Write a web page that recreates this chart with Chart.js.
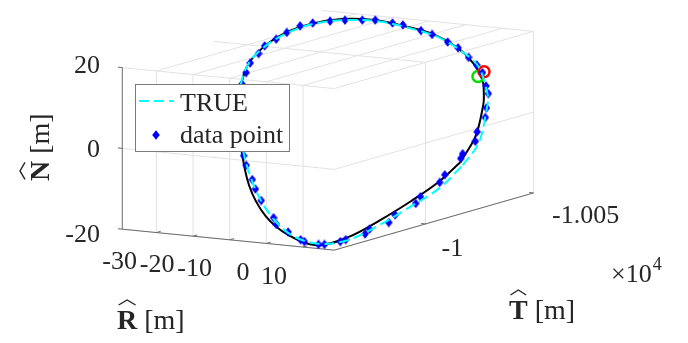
<!DOCTYPE html>
<html>
<head>
<meta charset="utf-8">
<script src="https://cdn.jsdelivr.net/npm/chart.js@4.4.1/dist/chart.umd.min.js"></script>
<style>
  html, body { margin: 0; padding: 0; background: #fff; }
  #wrap { width: 688px; height: 343px; }
</style>
</head>
<body>
<div id="wrap"><canvas id="myChart" width="688" height="343"></canvas></div>
<script>
// axis limits and ticks (R, T, N in metres)
const rLim = [-39.3, 18.5];
const tLim = [-10050, -9957.7];
const nLim = [-20, 20];
const rTicks = [-30, -20, -10, 0, 10];
const tTicks = [-10050, -10000];
const tTickLabels = ["-1.005", "-1"];
const nTicks = [-20, 0, 20];

// true relative orbit
const trueR = [18.5, 17.6, 14.9, 12.9, 10.6, 5.0, -1.5, -8.5, -15.5, -22.0, -27.6, -31.9, -34.6, -35.5, -34.6, -31.9, -29.9, -27.6, -22.0, -15.5, -8.5, -1.5, 5.0, 10.6, 14.9, 17.6];
const trueT = [-10017.2, -10026.3, -10034.7, -10038.5, -10041.9, -10047.5, -10051.0, -10052.2, -10051.0, -10047.5, -10041.9, -10034.7, -10026.3, -10017.2, -10008.1, -9999.7, -9995.9, -9992.5, -9986.9, -9983.4, -9982.2, -9983.4, -9986.9, -9992.5, -9999.7, -10008.1];
const trueN = [-8.1, -3.9, 3.5, 4.7, 5.6, 10.4, 13.0, 15.7, 17.5, 19.2, 19.9, 19.8, 18.5, 16.4, 13.6, 9.2, 4.3, -0.9, -8.7, -16.4, -21.9, -24.1, -23.2, -19.7, -15.8, -12.4];

// estimated orbit (black)
const estR = [18.5, 17.6, 14.9, 12.9, 10.6, 5.0, -1.5, -8.5, -15.5, -22.0, -27.6, -31.9, -34.6, -35.5, -34.6, -31.9, -29.9, -27.6, -22.0, -15.5, -8.5, -1.5, 5.0, 10.6, 14.9, 17.6];
const estT = [-10016.1, -10024.8, -10032.9, -10036.5, -10039.8, -10045.1, -10048.5, -10049.6, -10048.5, -10045.1, -10039.8, -10032.9, -10024.8, -10016.1, -10007.4, -9999.3, -9995.7, -9992.4, -9987.1, -9983.7, -9982.6, -9983.7, -9987.1, -9992.4, -9999.3, -10007.4];
const estN = [-7.2, -2.0, 4.3, 6.2, 8.8, 11.6, 14.5, 16.9, 18.4, 19.9, 20.5, 20.0, 18.6, 16.2, 13.0, 7.4, 2.7, -2.5, -12.2, -18.6, -22.6, -24.6, -22.5, -18.6, -14.6, -10.9];

// measured data points
const measR = [9.56, 7.0, 4.16, 0.73, -2.88, -6.15, -10.39, -13.2, -17.3, -19.49, -22.81, -25.13, -27.91, -30.07, -32.23, -33.53, -34.64, -35.23, -35.5, -35.39, -34.8, -34.18, -32.96, -31.15, -27.27, -24.75, -23.22, -20.33, -19.06, -16.84, -12.71, -11.79, -8.5, -5.21, -4.29, -1.05, 0.3, 3.54, 4.6, 8.13, 8.86, 11.89, 12.78, 15.34, 15.88, 17.58, 17.91, 18.5, 18.5, 18.01, 17.8, 15.96, 15.34, 12.78];
const measT = [-10043.2, -10045.9, -10048.1, -10050.1, -10051.4, -10052.1, -10052.1, -10051.7, -10050.3, -10049.2, -10046.9, -10044.8, -10041.5, -10038.3, -10033.9, -10030.3, -10026.0, -10022.1, -10017.2, -10014.2, -10009.3, -10006.4, -10002.4, -9998.1, -9992.0, -9989.2, -9987.8, -9985.7, -9985.0, -9983.9, -9982.6, -9982.4, -9982.2, -9982.4, -9982.6, -9983.6, -9984.1, -9985.9, -9986.6, -9989.6, -9990.4, -9994.2, -9995.6, -10000.8, -10002.1, -10008.1, -10009.9, -10016.3, -10017.2, -10023.9, -10025.1, -10032.0, -10033.6, -10038.8];
const measN = [6.72, 9.39, 10.68, 11.96, 13.79, 14.82, 16.32, 17.08, 18.34, 18.79, 19.55, 19.66, 19.91, 19.98, 19.99, 19.71, 18.63, 17.52, 16.59, 15.17, 13.61, 11.75, 9.63, 6.2, -1.97, -5.33, -7.35, -10.31, -12.44, -14.91, -18.6, -20.15, -21.7, -23.33, -23.75, -24.31, -24.27, -23.55, -23.09, -21.82, -20.69, -19.35, -17.6, -15.32, -13.82, -11.04, -9.4, -6.3, -5.26, -3.26, -1.1, 1.22, 3.28, 5.8];

// start positions [R, T, N]
const trueStart = [7.9, -10045.1, 9.8];
const estStart = [6.0, -10045.5, 8.4];

// 3D box on the canvas: corner (Rmin, Tmax, Nmin) and the three edge vectors
const box = { ox: 117, oy: 232, rx: 217, ry: 22, tx: 204, ty: -60, nz: -169.5 };

function proj(r, t, n) {
  const fr = (r - rLim[0]) / (rLim[1] - rLim[0]);
  const ft = (tLim[1] - t) / (tLim[1] - tLim[0]);
  const fn = (n - nLim[0]) / (nLim[1] - nLim[0]);
  return {
    x: box.ox + fr * box.rx + ft * box.tx,
    y: box.oy + fr * box.ry + ft * box.ty + fn * box.nz
  };
}
const pts = (R, T, N) => R.map((r, i) => proj(r, T[i], N[i]));
const loop = a => a.concat([a[0]]);
function seg(list, a, b) {
  list.push(proj(a[0], a[1], a[2]), proj(b[0], b[1], b[2]), { x: NaN, y: NaN });
}

// grid on the back planes
const grid = [];
rTicks.forEach(r => {
  seg(grid, [r, tLim[1], nLim[0]], [r, tLim[1], nLim[1]]);
  seg(grid, [r, tLim[1], nLim[1]], [r, tLim[0], nLim[1]]);
});
tTicks.forEach(t => {
  seg(grid, [rLim[1], t, nLim[0]], [rLim[1], t, nLim[1]]);
  seg(grid, [rLim[0], t, nLim[1]], [rLim[1], t, nLim[1]]);
});
nTicks.forEach(n => {
  seg(grid, [rLim[0], tLim[1], n], [rLim[1], tLim[1], n]);
  seg(grid, [rLim[1], tLim[1], n], [rLim[1], tLim[0], n]);
});

// axis lines and tick marks
const axes = [];
seg(axes, [rLim[0], tLim[1], nLim[0]], [rLim[0], tLim[1], nLim[1]]);
seg(axes, [rLim[0], tLim[1], nLim[0]], [rLim[1], tLim[1], nLim[0]]);
seg(axes, [rLim[1], tLim[1], nLim[0]], [rLim[1], tLim[0], nLim[0]]);
nTicks.forEach(n => seg(axes, [rLim[0], tLim[1], n], [rLim[0] - 1.2, tLim[1], n]));
rTicks.forEach(r => seg(axes, [r, tLim[1], nLim[0]], [r, tLim[1] - 2, nLim[0]]));
tTicks.forEach(t => seg(axes, [rLim[1], t, nLim[0]], [rLim[1] - 1.2, t, nLim[0]]));

// diamond marker
const diamond = document.createElement("canvas");
diamond.width = 8; diamond.height = 10;
(function () {
  const c = diamond.getContext("2d");
  c.fillStyle = "#0000ff";
  c.beginPath();
  c.moveTo(4, 0.2); c.lineTo(7.8, 5); c.lineTo(4, 9.8); c.lineTo(0.2, 5);
  c.closePath();
  c.fill();
})();

const serif = '"Liberation Serif", "Times New Roman", serif';
const textColor = "#262626";

function hat(ctx, x, w, base) {
  ctx.beginPath();
  ctx.moveTo(x + 0.08 * w, base - 24);
  ctx.lineTo(x + 0.5 * w, base - 29);
  ctx.lineTo(x + 0.92 * w, base - 24);
  ctx.lineWidth = 1.4;
  ctx.strokeStyle = textColor;
  ctx.stroke();
}

function axisLabel(ctx, letter, x, y) {
  ctx.textAlign = "left";
  ctx.font = "bold 28px " + serif;
  ctx.fillText(letter, x, y);
  const w = ctx.measureText(letter).width;
  hat(ctx, x, w, y);
  ctx.font = "28px " + serif;
  ctx.fillText(" [m]", x + w, y);
}

const labels3d = {
  id: "labels3d",
  afterDraw(chart) {
    const ctx = chart.ctx;
    ctx.save();
    ctx.fillStyle = textColor;
    ctx.textBaseline = "alphabetic";
    ctx.font = "26px " + serif;

    ctx.textAlign = "right";
    nTicks.forEach(n => {
      const p = proj(rLim[0], tLim[1], n);
      ctx.fillText(String(n), p.x - 17, p.y + 10);
    });
    rTicks.forEach(r => {
      const p = proj(r, tLim[1], nLim[0]);
      ctx.fillText(String(r), p.x - 15, p.y + 33);
    });
    ctx.textAlign = "left";
    tTicks.forEach((t, i) => {
      const p = proj(rLim[1], t, nLim[0]);
      ctx.fillText(tTickLabels[i], p.x + 14, p.y + 29);
    });
    const c = proj(rLim[1], tLim[0], nLim[0]);
    ctx.fillText("\u00d710", c.x + 73, c.y + 88);
    const w10 = ctx.measureText("\u00d710").width;
    ctx.font = "18px " + serif;
    ctx.fillText("4", c.x + 74 + w10, c.y + 76);

    axisLabel(ctx, "R", 117, 329);
    axisLabel(ctx, "T", 509, 319);
    ctx.save();
    ctx.translate(49, 181);
    ctx.rotate(-Math.PI / 2);
    axisLabel(ctx, "N", 0, 0);
    ctx.restore();

    // legend
    const ds = chart.data.datasets;
    ctx.fillStyle = "#ffffff";
    ctx.fillRect(135, 84, 155, 67);
    ctx.strokeStyle = "#7a7a7a";
    ctx.lineWidth = 1;
    ctx.strokeRect(135.5, 84.5, 154, 67);
    ctx.beginPath();
    ctx.setLineDash([10, 5]);
    ctx.moveTo(139, 101);
    ctx.lineTo(174, 101);
    ctx.strokeStyle = "#00ffff";
    ctx.lineWidth = 2;
    ctx.stroke();
    ctx.setLineDash([]);
    ctx.drawImage(diamond, 156 - diamond.width / 2, 135 - diamond.height / 2);
    ctx.fillStyle = textColor;
    ctx.font = "26px " + serif;
    ctx.fillText(ds[0].label, 180, 111);
    ctx.fillText(ds[1].label, 180, 143);
    ctx.restore();
  }
};

new Chart(document.getElementById("myChart"), {
  type: "scatter",
  data: {
    datasets: [
      { label: "TRUE", data: loop(pts(trueR, trueT, trueN)), showLine: true, borderColor: "#00ffff", borderWidth: 2, borderDash: [10, 5], pointRadius: 0, tension: 0.35 },
      { label: "data point", data: pts(measR, measT, measN), showLine: false, pointStyle: diamond, pointRadius: 4, backgroundColor: "#0000ff", borderColor: "#0000ff" },
      { label: "start", data: [proj(trueStart[0], trueStart[1], trueStart[2])], pointStyle: "circle", pointRadius: 5.5, borderWidth: 2.5, borderColor: "#ff0000", backgroundColor: "rgba(0,0,0,0)" },
      { label: "start estimate", data: [proj(estStart[0], estStart[1], estStart[2])], pointStyle: "circle", pointRadius: 5.5, borderWidth: 2.5, borderColor: "#00e000", backgroundColor: "rgba(0,0,0,0)" },
      { label: "estimate", data: loop(pts(estR, estT, estN)), showLine: true, borderColor: "#000000", borderWidth: 2, pointRadius: 0, tension: 0.35 },
      { label: "axes", data: axes, showLine: true, borderColor: "#6b6b6b", borderWidth: 1, pointRadius: 0, tension: 0 },
      { label: "grid", data: grid, showLine: true, borderColor: "#e2e2e2", borderWidth: 1, pointRadius: 0, tension: 0 }
    ]
  },
  options: {
    responsive: false,
    animation: false,
    events: [],
    layout: { padding: 0 },
    plugins: { legend: { display: false }, tooltip: { enabled: false } },
    scales: {
      x: { type: "linear", min: 0, max: 688, display: false },
      y: { type: "linear", min: 0, max: 343, reverse: true, display: false }
    }
  },
  plugins: [labels3d]
});
</script>
</body>
</html>
